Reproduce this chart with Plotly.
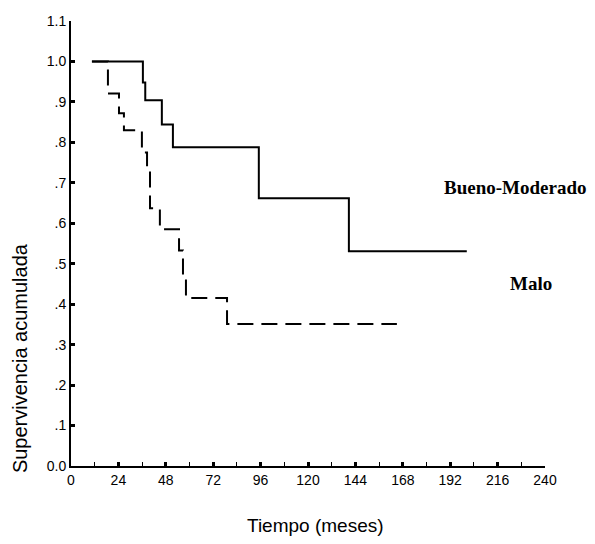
import plotly.graph_objects as go

# Data
bueno_t = [10.6, 36.4, 37.6, 46.0, 51.6, 95.1, 140.7, 200.4]
bueno_s = [1.0, 0.948, 0.904, 0.844, 0.788, 0.662, 0.531, 0.531]

malo_t = [10.6, 18.7, 24.3, 26.8, 35.9, 38.5, 40.0, 45.0, 54.7, 56.7, 58.2, 79.0, 165.0]
malo_s = [1.0, 0.921, 0.872, 0.830, 0.775, 0.730, 0.637, 0.585, 0.533, 0.467, 0.415, 0.351, 0.351]

x_ticks = [0, 24, 48, 72, 96, 120, 144, 168, 192, 216, 240]
y_ticks = [0.0, 0.1, 0.2, 0.3, 0.4, 0.5, 0.6, 0.7, 0.8, 0.9, 1.0, 1.1]
y_labels = ["0.0", ".1", ".2", ".3", ".4", ".5", ".6", ".7", ".8", ".9", "1.0", "1.1"]

L, R, T, B = 71, 50, 20.5, 78
W, H = 595, 544
pw, ph = W - L - R, H - T - B


def px(x):
    return (x - L) / pw


def py(y):
    return 1 - (y - T) / ph


fig = go.Figure()
fig.add_trace(go.Scatter(x=malo_t, y=malo_s, mode="lines", line_shape="hv",
                         line=dict(color="black", width=2, dash="16px,8px"),
                         name="Malo", showlegend=False))
fig.add_trace(go.Scatter(x=bueno_t, y=bueno_s, mode="lines", line_shape="hv",
                         line=dict(color="black", width=2),
                         name="Bueno-Moderado", showlegend=False))

fig.add_annotation(x=px(515), y=py(187), xref="paper", yref="paper", text="<b>Bueno-Moderado</b>",
                   xanchor="center", yanchor="middle",
                   showarrow=False, font=dict(family="Liberation Serif", size=19, color="black"))
fig.add_annotation(x=px(531), y=py(283), xref="paper", yref="paper", text="<b>Malo</b>",
                   xanchor="center", yanchor="middle",
                   showarrow=False, font=dict(family="Liberation Serif", size=19, color="black"))

fig.add_annotation(x=px(20), y=py(358), xref="paper", yref="paper",
                   xanchor="center", yanchor="middle",
                   text="Supervivencia acumulada", textangle=-90, showarrow=False,
                   font=dict(family="Liberation Sans", size=20, color="black"))
fig.add_annotation(x=px(315), y=py(526), xref="paper", yref="paper",
                   xanchor="center", yanchor="middle",
                   text="Tiempo (meses)", showarrow=False,
                   font=dict(family="Liberation Sans", size=19, color="black"))

fig.update_xaxes(range=[0, 240], tickvals=x_ticks, ticktext=[str(v) for v in x_ticks],
                 showgrid=False, zeroline=False, showline=True, linecolor="black", linewidth=2,
                 ticks="inside", ticklen=4, tickwidth=3, tickcolor="black",
                 minor=dict(dtick=12, tick0=12, ticks="inside", ticklen=4, tickwidth=1, tickcolor="black", showgrid=False),
                 tickfont=dict(family="Liberation Sans", size=14, color="black"))
fig.update_yaxes(range=[0, 1.1], tickvals=y_ticks, ticktext=y_labels,
                 showgrid=False, zeroline=False, showline=True, linecolor="black", linewidth=2,
                 ticks="inside", ticklen=4, tickwidth=3, tickcolor="black",
                 tickfont=dict(family="Liberation Sans", size=14, color="black"))

fig.update_layout(width=W, height=H, margin=dict(l=L, r=R, t=T, b=B),
                  plot_bgcolor="white", paper_bgcolor="white", showlegend=False)

fig.write_html("out.html")
